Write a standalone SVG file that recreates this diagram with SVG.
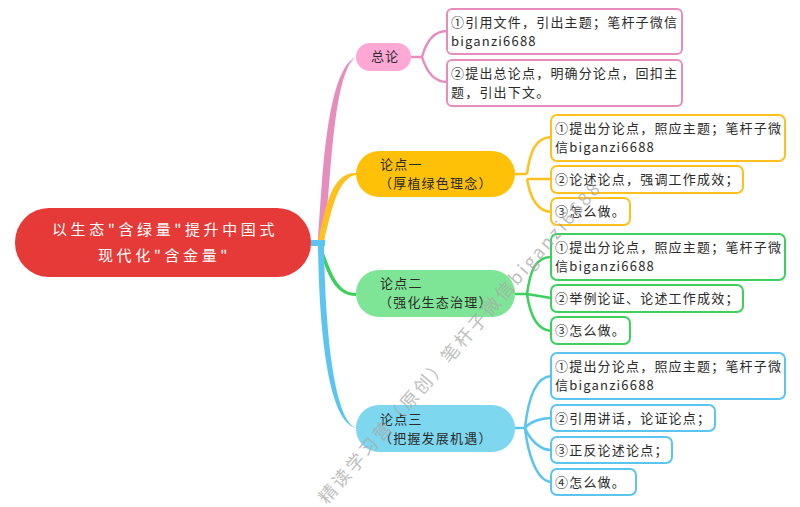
<svg xmlns="http://www.w3.org/2000/svg" width="800" height="507" viewBox="0 0 800 507">
<style>
text{font-family:"Noto Sans CJK SC","Noto Sans",sans-serif;font-size:13px;letter-spacing:1.2px;fill:#2b2b2b}
.leaf rect{fill:#fff;stroke-width:2}
.c{fill:none}
.pk{stroke:#E68DBE}.ye{stroke:#FFC11E}.gr{stroke:#3DD05E}.bl{stroke:#5CC4F0}
.thin{stroke-width:2.5}
.root{font-size:15px;letter-spacing:3.6px;fill:#fff}
.wm{font-size:18px;letter-spacing:2.7px;fill:#aaa;opacity:.75}
</style>
<rect width="800" height="507" fill="#fff"/>
<g id="connectors" class="c">
<path d="M318 240C322 190 325 70 356 57C332 72 331 190 324 240Z" fill="#E68DBE"/>
<path d="M318 241C326 205 332 172 356 173V175C338 178 332 208 324 241Z" fill="#FFC11E"/>
<path d="M321 245C332 275 338 293 356 293V296C335 296 327 275 318 245Z" fill="#3DD05E"/>
<path d="M318 243H324C325 330 334 420 356 428C328 422 319 330 318 243Z" fill="#5CC4F0"/>
<path d="M311 240H325V246H311Z" fill="#5CC4F0"/>
<path class="c pk thin" d="M411 57H422M422 57C426 42 433 31 447 31M422 57C426 70 433 82 447 82"/>
<path class="c ye thin" d="M515 174H527M527 174C530 152 535 138 551 137M527 179H551M527 179C530 197 537 211 551 212"/>
<path class="c gr thin" d="M515 294H527M527 294C530 272 535 257 551 257M527 294L551 298M527 294C530 315 537 330 551 331"/>
<path class="c bl thin" d="M515 428H525M525 428C528 400 535 377 551 376M525 428C530 422 540 418 551 418M525 428C530 440 540 450 551 450M525 428C528 455 537 481 551 482"/>
</g>
<g id="root"><rect x="15" y="208" width="296" height="69" rx="34" fill="#E53A38"/>
<text class="root" x="52" y="235">以生态"含绿量"提升中国式</text>
<text class="root" x="98" y="261">现代化"含金量"</text></g>
<g id="n-zonglun"><rect x="356" y="43" width="55" height="28" rx="14" fill="#FFA8D6"/><text x="371" y="61">总论</text></g>
<g id="n-1"><rect x="356" y="151" width="159" height="46" rx="23" fill="#FFC107"/><text x="380" y="169">论点一</text><text x="379" y="188">（厚植绿色理念）</text></g>
<g id="n-2"><rect x="356" y="270" width="159" height="47" rx="23" fill="#7FE596"/><text x="380" y="288">论点二</text><text x="379" y="307">（强化生态治理）</text></g>
<g id="n-3"><rect x="356" y="405" width="159" height="47" rx="23" fill="#7DD7EE"/><text x="380" y="424">论点三</text><text x="379" y="443">（把握发展机遇）</text></g>
<g id="z1" class="leaf"><rect class="pk" x="447" y="9" width="235" height="45" rx="5"/><text x="451" y="27">①引用文件，引出主题；笔杆子微信</text><text x="451" y="46">biganzi6688</text></g>
<g id="z2" class="leaf"><rect class="pk" x="447" y="60" width="235" height="46" rx="5"/><text x="451" y="78">②提出总论点，明确分论点，回扣主</text><text x="451" y="97">题，引出下文。</text></g>
<g id="a1" class="leaf"><rect class="ye" x="551" y="115" width="234" height="46" rx="6"/><text x="555" y="133">①提出分论点，照应主题；笔杆子微</text><text x="555" y="152">信biganzi6688</text></g>
<g id="a2" class="leaf"><rect class="ye" x="551" y="166" width="192" height="27" rx="6"/><text x="555" y="184">②论述论点，强调工作成效；</text></g>
<g id="a3" class="leaf"><rect class="ye" x="551" y="198" width="79" height="27" rx="6"/><text x="555" y="216">③怎么做。</text></g>
<g id="b1" class="leaf"><rect class="gr" x="551" y="234" width="234" height="46" rx="6"/><text x="555" y="252">①提出分论点，照应主题；笔杆子微</text><text x="555" y="271">信biganzi6688</text></g>
<g id="b2" class="leaf"><rect class="gr" x="551" y="285" width="192" height="27" rx="6"/><text x="555" y="303">②举例论证、论述工作成效；</text></g>
<g id="b3" class="leaf"><rect class="gr" x="551" y="317" width="79" height="27" rx="6"/><text x="555" y="335">③怎么做。</text></g>
<g id="c1" class="leaf"><rect class="bl" x="551" y="353" width="234" height="46" rx="6"/><text x="555" y="371">①提出分论点，照应主题；笔杆子微</text><text x="555" y="390">信biganzi6688</text></g>
<g id="c2" class="leaf"><rect class="bl" x="551" y="405" width="164" height="26" rx="6"/><text x="555" y="423">②引用讲话，论证论点；</text></g>
<g id="c3" class="leaf"><rect class="bl" x="551" y="437" width="121" height="26" rx="6"/><text x="555" y="455">③正反论述论点；</text></g>
<g id="c4" class="leaf"><rect class="bl" x="551" y="469" width="85" height="26" rx="6"/><text x="555" y="487">④怎么做。</text></g>
<text class="wm" transform="translate(327 505) rotate(-49)">精读学习营（原创）笔杆子微信biganzi6688</text>
</svg>
